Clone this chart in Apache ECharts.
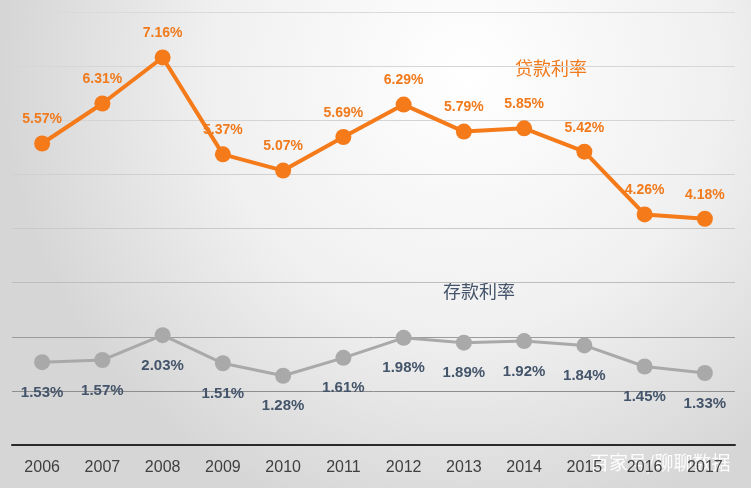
<!DOCTYPE html>
<html><head><meta charset="utf-8">
<script src="https://cdn.jsdelivr.net/npm/echarts@6/dist/echarts.min.js"></script>
<style>html,body{margin:0;padding:0;}#c{width:751px;height:488px;}</style>
</head><body><div id="c"></div>
<script>
const years = ['2006','2007','2008','2009','2010','2011','2012','2013','2014','2015','2016','2017'];
const loanRate = [5.57, 6.31, 7.16, 5.37, 5.07, 5.69, 6.29, 5.79, 5.85, 5.42, 4.26, 4.18];
const depositRate = [1.53, 1.57, 2.03, 1.51, 1.28, 1.61, 1.98, 1.89, 1.92, 1.84, 1.45, 1.33];
const loanName = '贷款利率';
const depositName = '存款利率';

const chart = echarts.init(document.getElementById('c'));
const fmt = p => p.value.toFixed(2) + '%';
chart.setOption({
  backgroundColor: {
    type: 'radial', x: 0.62, y: 0.15, r: 0.95,
    colorStops: [{offset: 0, color: '#ffffff'}, {offset: 0.55, color: '#f0f0f0'}, {offset: 1, color: '#d6d6d6'}]
  },
  animation: false,
  textStyle: {fontFamily: 'Liberation Sans, Arial, sans-serif'},
  grid: {left: 12, right: 16, top: 12, bottom: 43, containLabel: false},
  xAxis: {
    type: 'category', data: years, boundaryGap: true,
    axisLine: {lineStyle: {color: '#2a2a2a', width: 2}},
    axisTick: {show: false},
    axisLabel: {color: '#404040', fontSize: 16, margin: 15}
  },
  yAxis: {
    type: 'value', min: 0, max: 8, interval: 1,
    axisLabel: {show: false}, axisLine: {show: false}, axisTick: {show: false},
    splitLine: {lineStyle: {color: ['transparent', '#8e8e8e', '#9c9c9c', '#bdbdbd', '#cacaca', '#d0d0d0', '#d4d4d4', '#d6d6d6', '#dadada'], width: 1}}
  },
  series: [
    {
      name: loanName, type: 'line', data: loanRate,
      symbol: 'circle', symbolSize: 16,
      lineStyle: {color: '#f47a1a', width: 4},
      itemStyle: {color: '#f47a1a'},
      label: {show: true, position: 'top', distance: 9, formatter: fmt, color: '#f07a1c', fontSize: 14, fontWeight: 'bold'}
    },
    {
      name: depositName, type: 'line', data: depositRate,
      symbol: 'circle', symbolSize: 16,
      lineStyle: {color: '#a9a9a9', width: 3},
      itemStyle: {color: '#a9a9a9'},
      label: {show: true, position: 'bottom', distance: 15, formatter: fmt, color: '#44546a', fontSize: 15, fontWeight: 'bold'}
    }
  ],
  graphic: [
    {type: 'text', left: 515, top: 59, style: {text: loanName, fill: '#f07a1c', fontSize: 18, fontFamily: 'Noto Sans CJK SC'}},
    {type: 'text', left: 443, top: 282, style: {text: depositName, fill: '#44546a', fontSize: 18, fontFamily: 'Noto Sans CJK SC'}},
    {type: 'text', left: 590, top: 453, style: {text: '百家号/聊聊数据', fill: 'rgba(255,255,255,0.92)', fontSize: 19, fontFamily: 'Noto Sans CJK SC'}}
  ]
});
</script></body></html>
